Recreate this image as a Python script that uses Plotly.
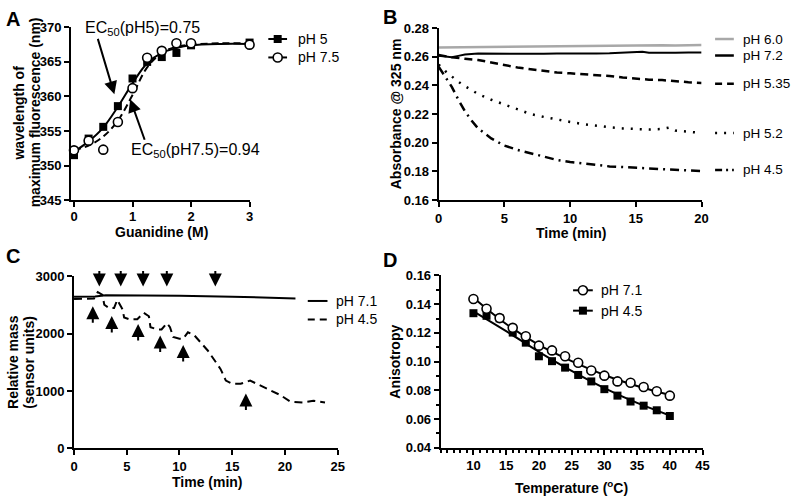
import plotly.graph_objects as go

W, H = 800, 503
FONT = "Liberation Sans, Arial, sans-serif"


def px(x):
    return x / W


def py(y):
    return 1 - y / H


# ---------------- Panel A data ----------------
guan = [0, 0.25, 0.5, 0.75, 1.0, 1.25, 1.5, 1.75, 2.0, 3.0]
wl_ph5 = [351.5, 353.9, 355.6, 358.6, 362.6, 365.0, 365.7, 366.3, 367.4, 367.8]
wl_ph75 = [352.2, 353.6, 352.3, 356.3, 361.2, 365.6, 366.6, 367.7, 367.7, 367.5]
fit_guan = [0, 0.25, 0.5, 0.75, 1.0, 1.25, 1.5, 1.75, 2.0, 2.5, 3.0]
fit_ph5 = [352.0, 353.5, 355.5, 358.5, 361.9, 364.8, 366.3, 367.0, 367.4, 367.6, 367.6]
fit_ph75 = [352.2, 352.9, 354.2, 356.5, 360.2, 364.2, 366.3, 367.2, 367.5, 367.7, 367.7]

# ---------------- Panel B data ----------------
tB = list(range(0, 21))
abs_ph60 = [0.2664, 0.2665, 0.2668, 0.2666, 0.2667, 0.2669, 0.2671, 0.2669, 0.2673, 0.2672,
            0.2675, 0.2676, 0.2674, 0.2678, 0.2676, 0.2679, 0.2677, 0.2680, 0.2678, 0.2681, 0.2682]
tB72 = [0, 0.5, 1.0, 1.5, 2, 3, 4, 5, 6, 7, 8, 9, 10, 11, 12, 13, 14, 15, 15.5, 16, 17, 18, 19, 20]
abs_ph72 = [0.2607, 0.2604, 0.2597, 0.2606, 0.2616, 0.2622, 0.2621, 0.2623, 0.2621, 0.2623, 0.2620,
            0.2622, 0.2621, 0.2625, 0.2623, 0.2624, 0.2626, 0.2628, 0.2634, 0.2627, 0.2630, 0.2628,
            0.2630, 0.2629]
abs_ph535 = [0.2612, 0.2596, 0.2586, 0.2577, 0.2560, 0.2540, 0.2525, 0.2513, 0.2500, 0.2490,
             0.2484, 0.2478, 0.2473, 0.2465, 0.2455, 0.2446, 0.2440, 0.2437, 0.2428, 0.2422, 0.2417]
tB52 = [0, 0.2, 0.5, 1, 1.5, 2, 3, 4, 5, 6, 7, 8, 9, 10, 11, 12, 13, 14, 15, 16, 17, 17.5, 18, 19, 20]
abs_ph52 = [0.2545, 0.2530, 0.2500, 0.2460, 0.2425, 0.2395, 0.2340, 0.2300, 0.2265, 0.2235, 0.2200,
            0.2180, 0.2160, 0.2145, 0.2130, 0.2117, 0.2108, 0.2100, 0.2095, 0.2092, 0.2096, 0.2105,
            0.2085, 0.2075, 0.2068]
tB45 = [0, 0.2, 0.5, 1, 1.5, 2, 2.5, 3, 4, 5, 6, 7, 8, 9, 10, 11, 12, 13, 14, 15, 16, 17, 18, 19, 20]
abs_ph45 = [0.2530, 0.2500, 0.2460, 0.2390, 0.2300, 0.2220, 0.2155, 0.2100, 0.2030, 0.1980, 0.1950,
            0.1925, 0.1900, 0.1880, 0.1865, 0.1855, 0.1840, 0.1835, 0.1830, 0.1825, 0.1822, 0.1818,
            0.1813, 0.1805, 0.1802]

# ---------------- Panel C data ----------------
tC71 = [0, 2, 3, 5, 10, 15, 21]
mass_ph71 = [2640, 2645, 2665, 2665, 2655, 2640, 2610]
tC45 = [0, 1.9, 2.25, 2.7, 2.87, 3.3, 3.8, 4.1, 4.6, 4.75, 5.2, 6.0, 6.6, 7.1, 7.25, 7.9, 8.3,
        8.8, 9.1, 9.4, 10.0, 10.35, 10.8, 11.4, 12.7, 13.9, 14.4, 15.0, 15.8, 16.7, 18.3, 19.55,
        20.5, 21.7, 22.7, 23.8]
mass_ph45 = [2600, 2610, 2720, 2670, 2500, 2445, 2445, 2585, 2420, 2280, 2250, 2250, 2360, 2300,
             2110, 2070, 2070, 2180, 2110, 1940, 1910, 1910, 2020, 1970, 1700, 1380, 1180, 1125,
             1125, 1180, 1040, 930, 815, 800, 830, 800]
down_arrow_t = [2.4, 4.43, 6.55, 8.8, 13.4]
down_arrow_tip = [2816, 2816, 2816, 2816, 2816]
up_arrow_t = [1.78, 3.58, 6.08, 8.17, 10.35, 16.3]
up_arrow_tip = [2473, 2305, 2164, 1967, 1799, 956]

# ---------------- Panel D data ----------------
temp = [10, 12, 14, 16, 18, 20, 22, 24, 26, 28, 30, 32, 34, 36, 38, 40]
aniso_ph71 = [0.1436, 0.1368, 0.1303, 0.1235, 0.1177, 0.1111, 0.1078, 0.1037, 0.0992, 0.0938,
              0.0902, 0.0862, 0.0853, 0.0823, 0.0794, 0.0763]
aniso_ph45 = [0.1337, 0.1319, 0.1301, 0.1202, 0.1132, 0.1037, 0.1003, 0.0958, 0.0907, 0.0862,
              0.0808, 0.0763, 0.0722, 0.0693, 0.0661, 0.0621]
fit_temp = [10, 15, 20, 25, 30, 35, 40]
fit_aniso_ph71 = [0.1445, 0.1262, 0.1116, 0.1003, 0.0907, 0.0830, 0.0767]
fit_aniso_ph45 = [0.1350, 0.1212, 0.1068, 0.0935, 0.0815, 0.0712, 0.0625]

fig = go.Figure()

sq = dict(symbol="square", size=8, color="black")
oc = dict(symbol="circle", size=9, color="white", line=dict(color="black", width=1.6))

# Panel A
fig.add_trace(go.Scatter(x=fit_guan, y=fit_ph5, mode="lines", line=dict(color="black", width=2, shape="spline"),
                         xaxis="x", yaxis="y", cliponaxis=False))
fig.add_trace(go.Scatter(x=fit_guan, y=fit_ph75, mode="lines",
                         line=dict(color="black", width=2, dash="7px,4px", shape="spline"),
                         xaxis="x", yaxis="y", cliponaxis=False))
fig.add_trace(go.Scatter(x=guan, y=wl_ph5, mode="markers", marker=sq, xaxis="x", yaxis="y", cliponaxis=False))
fig.add_trace(go.Scatter(x=guan, y=wl_ph75, mode="markers", marker=oc, xaxis="x", yaxis="y", cliponaxis=False))

# Panel B
fig.add_trace(go.Scatter(x=tB, y=abs_ph60, mode="lines", line=dict(color="#a8a8a8", width=2.5),
                         xaxis="x2", yaxis="y2", cliponaxis=False))
fig.add_trace(go.Scatter(x=tB72, y=abs_ph72, mode="lines", line=dict(color="black", width=2),
                         xaxis="x2", yaxis="y2", cliponaxis=False))
fig.add_trace(go.Scatter(x=tB, y=abs_ph535, mode="lines", line=dict(color="black", width=2.5, dash="8px,5px"),
                         xaxis="x2", yaxis="y2", cliponaxis=False))
fig.add_trace(go.Scatter(x=tB52, y=abs_ph52, mode="lines", line=dict(color="black", width=2.5, dash="2px,7px"),
                         xaxis="x2", yaxis="y2", cliponaxis=False))
fig.add_trace(go.Scatter(x=tB45, y=abs_ph45, mode="lines",
                         line=dict(color="black", width=2.5, dash="9px,5px,2px,5px"),
                         xaxis="x2", yaxis="y2", cliponaxis=False))

# Panel C
fig.add_trace(go.Scatter(x=tC71, y=mass_ph71, mode="lines", line=dict(color="black", width=2),
                         xaxis="x3", yaxis="y3", cliponaxis=False))
fig.add_trace(go.Scatter(x=tC45, y=mass_ph45, mode="lines", line=dict(color="black", width=2, dash="8px,5px"),
                         xaxis="x3", yaxis="y3", cliponaxis=False))

# Panel D
fig.add_trace(go.Scatter(x=fit_temp, y=fit_aniso_ph71, mode="lines", line=dict(color="black", width=2, shape="spline"),
                         xaxis="x4", yaxis="y4", cliponaxis=False))
fig.add_trace(go.Scatter(x=fit_temp, y=fit_aniso_ph45, mode="lines", line=dict(color="black", width=2, shape="spline"),
                         xaxis="x4", yaxis="y4", cliponaxis=False))
fig.add_trace(go.Scatter(x=temp, y=aniso_ph45, mode="markers", marker=sq, xaxis="x4", yaxis="y4", cliponaxis=False))
fig.add_trace(go.Scatter(x=temp, y=aniso_ph71, mode="markers", marker=oc, xaxis="x4", yaxis="y4", cliponaxis=False))

tickfont = dict(family=FONT, size=13, color="black", weight="bold")


def ax(**kw):
    d = dict(showline=True, linecolor="black", linewidth=2, ticks="outside", ticklen=5, tickwidth=2,
             tickcolor="black", showgrid=False, zeroline=False, tickfont=tickfont, mirror=False)
    d.update(kw)
    return d


layout = dict(
    width=W, height=H, margin=dict(l=0, r=0, t=0, b=0),
    paper_bgcolor="white", plot_bgcolor="white", showlegend=False,
    font=dict(family=FONT, color="black"),
    xaxis=ax(domain=[px(68), px(249)], range=[-0.05, 3], tickvals=[0, 1, 2, 3], anchor="y",
             ticklabelstandoff=-2),
    yaxis=ax(domain=[py(199), py(21)], range=[345, 370], dtick=5, anchor="x"),
    xaxis2=ax(domain=[px(440.7), px(707.3)], range=[0, 20], dtick=5, anchor="y2"),
    yaxis2=ax(domain=[py(199), py(21.7)], range=[0.16, 0.28], dtick=0.02, tickformat=".2f", anchor="x2"),
    xaxis3=ax(domain=[px(71), px(338.3)], range=[0, 25], dtick=5, anchor="y3"),
    yaxis3=ax(domain=[py(455), py(277.3)], range=[0, 3000], dtick=1000, anchor="x3"),
    xaxis4=ax(domain=[px(442.8), px(708.3)], range=[5, 45], tickvals=[10, 15, 20, 25, 30, 35, 40, 45],
              anchor="y4", minor=dict(dtick=1, ticklen=3, tickwidth=1.5, tickcolor="black", ticks="outside")),
    yaxis4=ax(domain=[py(454.3), py(276.7)], range=[0.04, 0.16], dtick=0.02, tickformat=".2f", anchor="x4",
              minor=dict(dtick=0.01, ticklen=3, tickwidth=1.5, tickcolor="black", ticks="outside")),
)
fig.update_layout(**layout)

anns = []


def text(x, y, s, size=14, bold=False, xanchor="left", angle=0):
    anns.append(dict(x=px(x), y=py(y), xref="paper", yref="paper", text=s, showarrow=False,
                     xanchor=xanchor, yanchor="middle", textangle=angle, borderpad=0, borderwidth=0,
                     font=dict(family=FONT, size=size, color="black", weight="bold" if bold else "normal")))


# panel letters
text(2, 12, "A", size=20, bold=True)
text(384, 10, "B", size=20, bold=True)
text(2, 257, "C", size=20, bold=True)
text(384, 261, "D", size=20, bold=True)

# axis titles
text(15, 109, "wavelength of", bold=True, xanchor="center", angle=-90)
text(31, 109, "maximum fluorescence (nm)", bold=True, xanchor="center", angle=-90)
text(160, 232, "Guanidine (M)", bold=True, xanchor="center")
text(397, 110, "Absorbance @ 325 nm", bold=True, xanchor="center", angle=-90)
text(575, 233, "Time (min)", bold=True, xanchor="center")
text(9, 366, "Relative mass", bold=True, xanchor="center", angle=-90)
text(25, 366, "(sensor units)", bold=True, xanchor="center", angle=-90)
text(206, 490, "Time (min)", bold=True, xanchor="center")
text(397, 366, "Anisotropy", bold=True, xanchor="center", angle=-90)
text(575, 495, "Temperature (<sup>o</sup>C)", bold=True, xanchor="center")

# EC50 labels
text(140, 22, "EC<sub>50</sub>(pH5)=0.75", size=16, xanchor="center")
text(194, 148, "EC<sub>50</sub>(pH7.5)=0.94", size=16, xanchor="center")

# legend texts
text(298, 33, "pH 5")
text(298, 52, "pH 7.5")
text(749, 33, "pH 6.0", size=13.5)
text(749, 50, "pH 7.2", size=13.5)
text(749, 79, "pH 5.35", size=13.5)
text(749, 130, "pH 5.2", size=13.5)
text(749, 168, "pH 4.5", size=13.5)
text(337, 303, "pH 7.1")
text(337, 322, "pH 4.5")
text(605, 292, "pH 7.1")
text(605, 313, "pH 4.5")

arrow = dict(showarrow=True, arrowhead=2, arrowsize=1.3, arrowwidth=2, arrowcolor="black", text="",
             standoff=0)
anns.append(dict(x=0.69, y=360.3, xref="x", yref="y", ax=-17, ay=-57, **arrow))
anns.append(dict(x=0.96, y=359.6, xref="x", yref="y", ax=15, ay=42, **arrow))
for t, v in zip(down_arrow_t, down_arrow_tip):
    anns.append(dict(x=t, y=v, xref="x3", yref="y3", ax=0, ay=-17, **arrow))
for t, v in zip(up_arrow_t, up_arrow_tip):
    anns.append(dict(x=t, y=v, xref="x3", yref="y3", ax=0, ay=18, **arrow))

fig.update_layout(annotations=anns)

shapes = []


def seg(x0, x1, y, color="black", width=2, dash="solid"):
    shapes.append(dict(type="line", xref="paper", yref="paper", x0=px(x0), x1=px(x1), y0=py(y), y1=py(y),
                       line=dict(color=color, width=width, dash=dash)))


def mark(x, y, kind):
    d = dict(xref="paper", yref="paper", xsizemode="pixel", ysizemode="pixel", xanchor=px(x), yanchor=py(y))
    if kind == "square":
        d.update(type="rect", x0=-4, x1=4, y0=-4, y1=4, fillcolor="black", line=dict(width=0))
    else:
        d.update(type="circle", x0=-4.5, x1=4.5, y0=-4.5, y1=4.5, fillcolor="white",
                 line=dict(color="black", width=1.6))
    shapes.append(d)


# Panel A legend
seg(268, 287, 33)
mark(277.5, 33, "square")
seg(268, 287, 52)
mark(277.5, 52, "circle")
# Panel B legend
seg(721, 740, 33, color="#a8a8a8", width=2.5)
seg(721, 740, 50, width=2.5)
seg(721, 740, 79, width=2.5, dash="7px,5px")
seg(721, 740, 130, width=2.5, dash="2px,7px")
seg(721, 740, 168, width=2.5, dash="7px,4px,2px,4px")
# Panel C legend
seg(308, 328, 303)
seg(308, 328, 322, dash="7px,5px")
# Panel D legend
seg(577, 597, 292)
mark(587, 292, "circle")
seg(577, 597, 313)
mark(587, 313, "square")

fig.update_layout(shapes=shapes)

fig.write_html("out.html", config={"displayModeBar": False},
               post_script="document.body.style.margin='0';")
